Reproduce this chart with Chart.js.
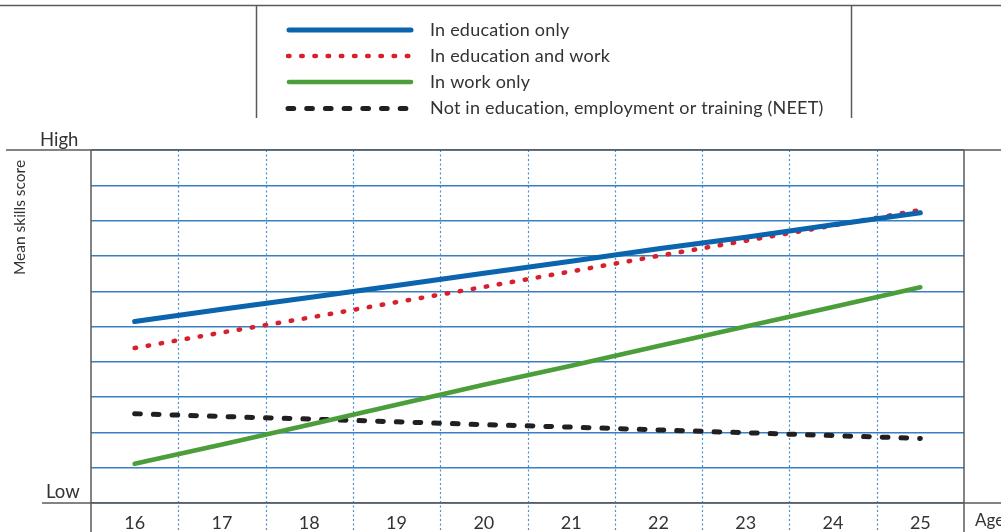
<!DOCTYPE html>
<html>
<head>
<meta charset="utf-8">
<script src="https://cdn.jsdelivr.net/npm/chart.js@4.4.0/dist/chart.umd.min.js"></script>
<style>
  html, body { margin: 0; padding: 0; background: #fff; }
  #wrap { width: 1001px; height: 532px; position: relative; }
</style>
</head>
<body>
<div id="wrap"><canvas id="chart" width="1001" height="532"></canvas></div>
<script>
// Ages on the x axis
const ages = ['16', '17', '18', '19', '20', '21', '22', '23', '24', '25'];

// Mean skills score (0 = Low, 10 = High)
const educationOnly    = [5.14, 5.49, 5.82, 6.16, 6.51, 6.85, 7.20, 7.53, 7.88, 8.22];
const educationAndWork = [4.39, 4.83, 5.25, 5.69, 6.12, 6.56, 7.00, 7.43, 7.86, 8.30];
const workOnly         = [1.11, 1.66, 2.22, 2.78, 3.35, 3.89, 4.45, 5.00, 5.55, 6.11];
const neet             = [2.53, 2.45, 2.38, 2.30, 2.22, 2.15, 2.07, 1.99, 1.91, 1.83];

const seriesLabels = [
    'In education only',
    'In education and work',
    'In work only',
    'Not in education, employment or training (NEET)'
];

const yMin = 0, yMax = 10;
const FONT = 'Lato, "Open Sans", sans-serif';
const FRAME = '#5a5a5a';
const TEXT = '#333';

// Frame, dotted category dividers, axis words and the boxed legend
const decorations = {
    id: 'decorations',
    beforeDatasetsDraw(chart) {
        const { ctx, chartArea: a, scales: { x } } = chart;
        const n = ages.length;
        ctx.save();
        ctx.strokeStyle = '#4a90cc';
        ctx.lineWidth = 1.2;
        ctx.setLineDash([2, 2.5]);
        for (let i = 1; i < n; i++) {
            const px = Math.round((x.getPixelForValue(i - 1) + x.getPixelForValue(i)) / 2) + 0.5;
            ctx.beginPath();
            ctx.moveTo(px, a.top);
            ctx.lineTo(px, chart.height);
            ctx.stroke();
        }
        ctx.restore();
    },
    afterDraw(chart) {
        const { ctx, chartArea: a } = chart;
        const W = chart.width, H = chart.height;
        ctx.save();
        ctx.strokeStyle = FRAME;
        ctx.lineWidth = 1.5;
        ctx.setLineDash([]);
        const line = (x1, y1, x2, y2) => {
            ctx.beginPath(); ctx.moveTo(x1, y1); ctx.lineTo(x2, y2); ctx.stroke();
        };
        line(0, 5.5, W, 5.5);               // top rule
        line(256.5, 5.5, 256.5, 118);       // legend box sides
        line(851.5, 5.5, 851.5, 118);
        line(6, a.top, W, a.top);           // "High" rule
        line(42, a.bottom, W, a.bottom);    // "Low" rule
        line(a.left, a.top, a.left, H);
        line(a.right, a.top, a.right, H);

        // axis words
        ctx.fillStyle = TEXT;
        ctx.font = '18.5px ' + FONT;
        ctx.textBaseline = 'alphabetic';
        ctx.textAlign = 'left';
        ctx.fillText('High', 40, a.top - 4);
        ctx.fillText('Low', 46, a.bottom - 5);
        ctx.font = '17px ' + FONT;
        ctx.fillText('Age', 975, H - 6);
        ctx.save();
        ctx.translate(25, 217.5);
        ctx.rotate(-Math.PI / 2);
        ctx.textAlign = 'center';
        ctx.font = '15.5px ' + FONT;
        ctx.fillText('Mean skills score', 0, 0);
        ctx.restore();

        // legend
        const rowY = [30, 56, 82, 108.5];
        chart.data.datasets.forEach((ds, i) => {
            const y = rowY[i];
            ctx.save();
            ctx.strokeStyle = ds.borderColor;
            ctx.lineWidth = ds.borderWidth;
            ctx.lineCap = ds.borderCapStyle || 'round';
            ctx.setLineDash(ds.borderDash || []);
            ctx.beginPath();
            ctx.moveTo(ds.borderDash ? 288 : 289, y);
            ctx.lineTo(411, y);
            ctx.stroke();
            ctx.restore();
            ctx.save();
            ctx.fillStyle = TEXT;
            ctx.font = '18px ' + FONT;
            ctx.letterSpacing = '0.2px';
            ctx.textBaseline = 'middle';
            ctx.fillText(ds.label, 430, y);
            ctx.restore();
        });
        ctx.restore();
    }
};

new Chart(document.getElementById('chart'), {
    type: 'line',
    data: {
        labels: ages,
        datasets: [
            { label: seriesLabels[0], data: educationOnly, borderColor: '#0b64ae', borderWidth: 5, borderCapStyle: 'round' },
            { label: seriesLabels[1], data: educationAndWork, borderColor: '#d7202d', borderWidth: 4.5, borderCapStyle: 'round', borderDash: [1.5, 11.7] },
            { label: seriesLabels[2], data: workOnly, borderColor: '#4c9e3b', borderWidth: 4.6, borderCapStyle: 'round' },
            { label: seriesLabels[3], data: neet, borderColor: '#231f20', borderWidth: 5, borderCapStyle: 'round', borderDash: [5.7, 13] }
        ]
    },
    options: {
        responsive: false,
        devicePixelRatio: 1,
        animation: false,
        layout: { padding: { left: 91, top: 150, right: 37, bottom: 0 } },
        elements: { point: { radius: 0 }, line: { tension: 0 } },
        plugins: { legend: { display: false }, tooltip: { enabled: false } },
        scales: {
            x: {
                offset: true,
                grid: { display: false, drawTicks: false },
                border: { display: false },
                ticks: { color: TEXT, font: { family: FONT, size: 18 }, padding: 9 },
                afterFit: (scale) => { scale.height = 29; }
            },
            y: {
                min: yMin,
                max: yMax,
                grid: { color: '#3a80c0', lineWidth: 1.4, drawTicks: false },
                border: { display: false },
                ticks: { display: false, stepSize: 1 }
            }
        }
    },
    plugins: [decorations]
});
</script>
</body>
</html>
